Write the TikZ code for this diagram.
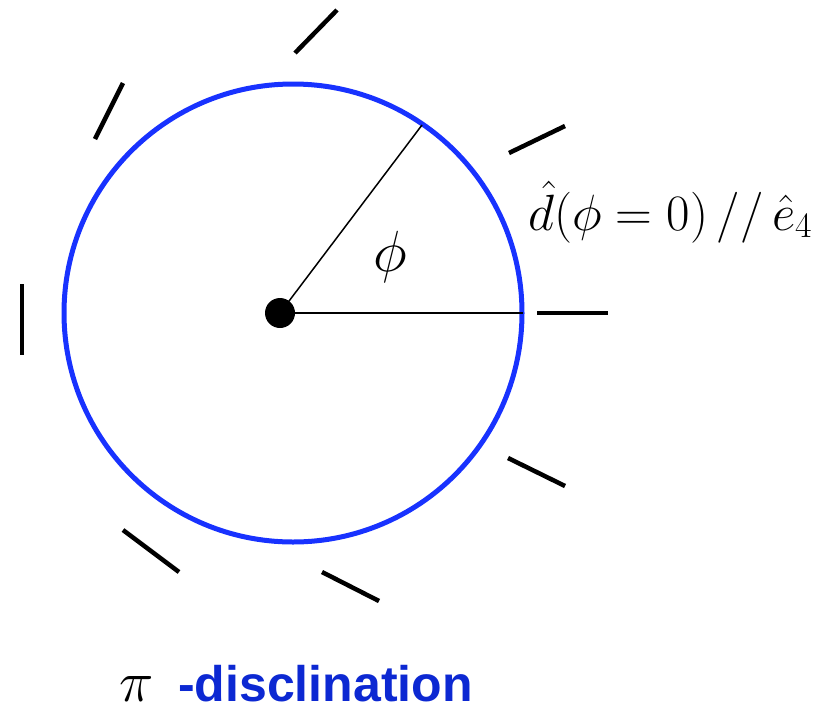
\RequirePackage{fix-cm}
\documentclass[tikz,border=0pt]{standalone}
\usepackage{fontspec}
\newfontfamily\titlefont{Liberation Sans}
\definecolor{ringblue}{RGB}{24,50,255}
\definecolor{titleblue}{RGB}{12,40,210}

\begin{document}
\begin{tikzpicture}[x=1pt,y=-1pt,
  dir/.style={line width=4.5pt},
  ray/.style={line width=1.5pt},
  mathlbl/.style={inner sep=0pt,font=\fontsize{51}{56}\selectfont},
  biglbl/.style={inner sep=0pt,font=\fontsize{58}{62}\selectfont}]
\useasboundingbox (0,0) rectangle (826,707);
\draw[ringblue,line width=5pt] (293,313) circle (229pt);
\node[circle,fill,inner sep=0pt,minimum size=30pt] (O) at (280,313) {};
\coordinate (A) at (523,313);
\coordinate (B) at (422,125);
\draw[ray] (O.center)--(A);
\draw[ray] (O.center)--(B);
% director around the ring
\draw[dir] (537,313)--(608,313);
\draw[dir] (509,153)--(565,126);
\draw[dir] (295,53)--(337,10);
\draw[dir] (95,139)--(123,83);
\draw[dir] (22,284)--(22,355);
\draw[dir] (123,530)--(179,572);
\draw[dir] (322,572)--(379,601);
\draw[dir] (508,458)--(565,486);
\node[mathlbl,anchor=base west] (D) at (528,230) {$\hat{d}(\phi=0)\,//\,\hat{e}_4$};
\node[biglbl] (phi) at (390,257) {$\phi$};
\node[biglbl,anchor=base west] (pi) at (119,701) {$\pi$};
\node[inner sep=0pt,anchor=base west,text=titleblue,font=\titlefont\bfseries\fontsize{50}{60}\selectfont] (T) at (178,701) {-disclination};
\end{tikzpicture}
\end{document}
